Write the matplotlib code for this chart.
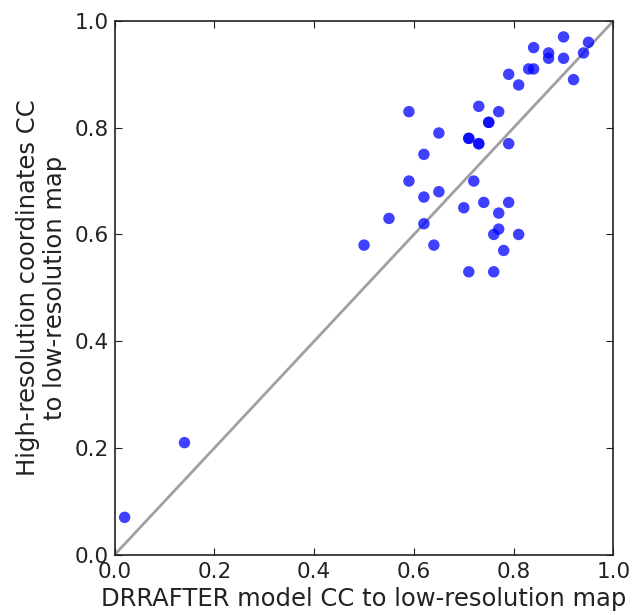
import matplotlib
matplotlib.use("Agg")
import matplotlib.pyplot as plt

drrafter_cc = [0.02, 0.14,
               0.59, 0.62, 0.65, 0.71, 0.71, 0.73, 0.73, 0.73, 0.75, 0.75, 0.77, 0.79, 0.79, 0.81,
               0.83, 0.84, 0.84, 0.87, 0.87, 0.90, 0.90, 0.92, 0.94, 0.95,
               0.59, 0.72, 0.62, 0.65, 0.55, 0.62, 0.50, 0.64, 0.70, 0.74, 0.79,
               0.77, 0.77, 0.76, 0.81, 0.78, 0.71, 0.76]
highres_cc = [0.07, 0.21,
              0.83, 0.75, 0.79, 0.78, 0.78, 0.77, 0.77, 0.84, 0.81, 0.81, 0.83, 0.77, 0.90, 0.88,
              0.91, 0.91, 0.95, 0.94, 0.93, 0.97, 0.93, 0.89, 0.94, 0.96,
              0.70, 0.70, 0.67, 0.68, 0.63, 0.62, 0.58, 0.58, 0.65, 0.66, 0.66,
              0.64, 0.61, 0.60, 0.60, 0.57, 0.53, 0.53]

fig = plt.figure(figsize=(6.37, 6.15), dpi=100)
ax = fig.add_axes([0.180, 0.098, 0.783, 0.868])
ax.plot([0, 1], [0, 1], color='#a0a0a0', lw=2, zorder=1)
ax.scatter(drrafter_cc, highres_cc, s=68, color='blue', alpha=0.75, edgecolors='none', zorder=2)
ax.set_xlim(0, 1)
ax.set_ylim(0, 1)
ax.set_xticks([0, 0.2, 0.4, 0.6, 0.8, 1.0])
ax.set_yticks([0, 0.2, 0.4, 0.6, 0.8, 1.0])
ax.tick_params(direction='in', top=True, right=True, labelsize=15.5, length=5, pad=4, colors='#222222')
ax.tick_params(axis='x', pad=5)
for sp in ax.spines.values():
    sp.set_linewidth(1.2)
    sp.set_color('#222222')
ax.set_xlabel('DRRAFTER model CC to low-resolution map', fontsize=17.5, labelpad=4, color='#222222')
ax.set_ylabel('High-resolution coordinates CC\nto low-resolution map', fontsize=17.5, labelpad=6,
              color='#222222', linespacing=1.15)
fig.savefig('out.png', dpi=100)
